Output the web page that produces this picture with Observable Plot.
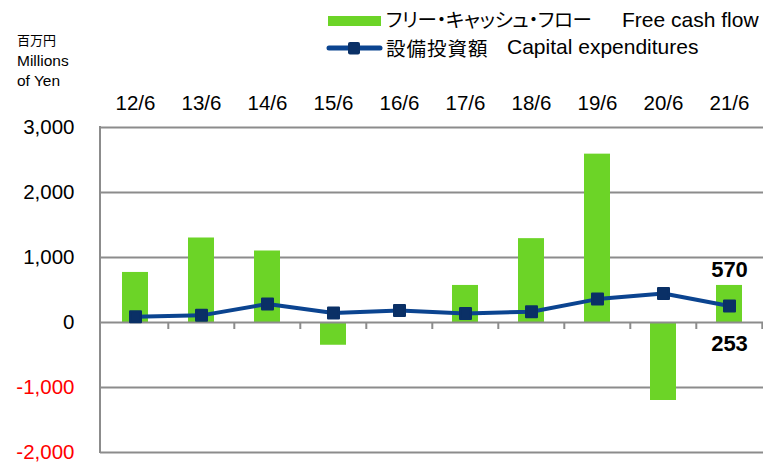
<!DOCTYPE html>
<html>
<head>
<meta charset="utf-8">
<script src="https://cdn.jsdelivr.net/npm/d3@7"></script>
<script src="https://cdn.jsdelivr.net/npm/@observablehq/plot@0.6"></script>
<style>
  html, body { margin: 0; padding: 0; background: #fff; }
  #wrap { position: relative; width: 763px; height: 462px; overflow: hidden; font-family: "Liberation Sans", Arial, sans-serif; color: #000; }
  #chart { position: absolute; left: 0; top: 0; }
  .ov { position: absolute; white-space: nowrap; line-height: 20px; height: 20px; }
  .jp { font-family: "Noto Sans CJK JP", "Liberation Sans", sans-serif; font-feature-settings: "palt"; font-size: 19.5px; }
  .en { font-size: 21px; }
  .unit { position: absolute; left: 17px; font-size: 15.5px; line-height: 18px; white-space: nowrap; }
</style>
</head>
<body>
<div id="wrap">
  <div id="chart"></div>
  <svg style="position:absolute;left:0;top:0" width="763" height="70">
    <rect x="328" y="16" width="53" height="10" fill="#6CD427"></rect>
    <line x1="329" y1="48" x2="380" y2="48" stroke="#0B4490" stroke-width="5" stroke-linecap="round"></line>
    <rect x="348" y="42" width="12" height="12.5" rx="2" fill="#0A3066"></rect>
  </svg>
  <div class="ov jp" style="left:386px;top:9px;letter-spacing:-0.3px">フリー・キャッシュ・フロー</div>
  <div class="ov en" style="left:622px;top:10px">Free cash flow</div>
  <div class="ov jp" style="left:386px;top:38px;letter-spacing:1px">設備投資額</div>
  <div class="ov en" style="left:507px;top:37px">Capital expenditures</div>
  <div class="unit" style="top:31px"><span class="jp" style="font-size:13px">百万円</span></div>
  <div class="unit" style="top:52px">Millions</div>
  <div class="unit" style="top:72px">of Yen</div>
</div>
<script>
// ---- data ----
const categories = ["12/6", "13/6", "14/6", "15/6", "16/6", "17/6", "18/6", "19/6", "20/6", "21/6"];
const freeCashFlow = [770, 1300, 1100, -350, 0, 570, 1290, 2590, -1200, 570];
const capitalExpenditures = [90, 110, 285, 145, 185, 140, 165, 360, 445, 253];
const yTicks = [-2000, -1000, 0, 1000, 2000, 3000];

const data = categories.map((c, i) => ({cat: c, fcf: freeCashFlow[i], capex: capitalExpenditures[i]}));
const lastIndex = categories.length - 1;
const fmt = d => d.toLocaleString("en-US");
const gridColor = "#8c8c8c";

// frame line and boundary ticks on the zero line
function frameAndTicks(index, scales, values, dimensions) {
  const ns = "http://www.w3.org/2000/svg";
  const g = document.createElementNS(ns, "g");
  const {width, height, marginLeft, marginRight, marginTop, marginBottom} = dimensions;
  const x = scales.x, y = scales.y;
  const step = (width - marginLeft - marginRight) / categories.length;
  const y0 = y(0);
  const add = (x1, y1, x2, y2) => {
    const l = document.createElementNS(ns, "line");
    l.setAttribute("x1", x1); l.setAttribute("y1", y1);
    l.setAttribute("x2", x2); l.setAttribute("y2", y2);
    l.setAttribute("stroke", gridColor); l.setAttribute("stroke-width", 2);
    g.appendChild(l);
  };
  add(marginLeft, marginTop - 1, marginLeft, height - marginBottom + 1);
  categories.forEach((c, i) => {
    const bx = (typeof x === "function" ? x(c) : marginLeft + i * step) + step;
    add(bx, y0, bx, y0 + 7);
  });
  return g;
}

const chart = Plot.plot({
  width: 763,
  height: 462,
  marginLeft: 100,
  marginRight: 0,
  marginTop: 127,
  marginBottom: 10,
  style: {fontFamily: "'Liberation Sans', Arial, sans-serif", fontSize: "20.5px", color: "#000", background: "transparent", overflow: "visible"},
  x: {type: "band", domain: categories, padding: 0, axis: null, label: null},
  y: {domain: [-2000, 3000], axis: null, label: null},
  marks: [
    Plot.ruleY(yTicks.filter(v => v !== 0), {stroke: gridColor, strokeWidth: 2}),
    Plot.barY(data, {x: "cat", y: "fcf", fill: "#6CD427", insetLeft: 20, insetRight: 20}),
    Plot.ruleY([0], {stroke: gridColor, strokeWidth: 2}),
    frameAndTicks,
    Plot.axisX({anchor: "top", tickSize: 0, tickPadding: 18, fontSize: 20.5, label: null}),
    Plot.axisY({ticks: yTicks.filter(v => v >= 0), tickSize: 0, tickPadding: 26, tickFormat: fmt, fontSize: 20.5, label: null}),
    Plot.axisY({ticks: yTicks.filter(v => v < 0), tickSize: 0, tickPadding: 26, tickFormat: fmt, fontSize: 20.5, fill: "#ff0000", color: "#ff0000", label: null}),
    Plot.line(data, {x: "cat", y: "capex", stroke: "#0B4490", strokeWidth: 4}),
    Plot.dot(data, {x: "cat", y: "capex", symbol: "square", r: 6.2, fill: "#0A3066", stroke: "#0A3066", strokeWidth: 2, strokeLinejoin: "round"}),
    Plot.text(data, {filter: (d, i) => i === lastIndex, x: "cat", y: "fcf", text: d => fmt(d.fcf), dy: -8, lineAnchor: "bottom", fontWeight: "bold", fontSize: 22}),
    Plot.text(data, {filter: (d, i) => i === lastIndex, x: "cat", y: "capex", text: d => fmt(d.capex), dy: 29, lineAnchor: "top", fontWeight: "bold", fontSize: 22})
  ]
});
document.getElementById("chart").appendChild(chart);
</script>
</body>
</html>
